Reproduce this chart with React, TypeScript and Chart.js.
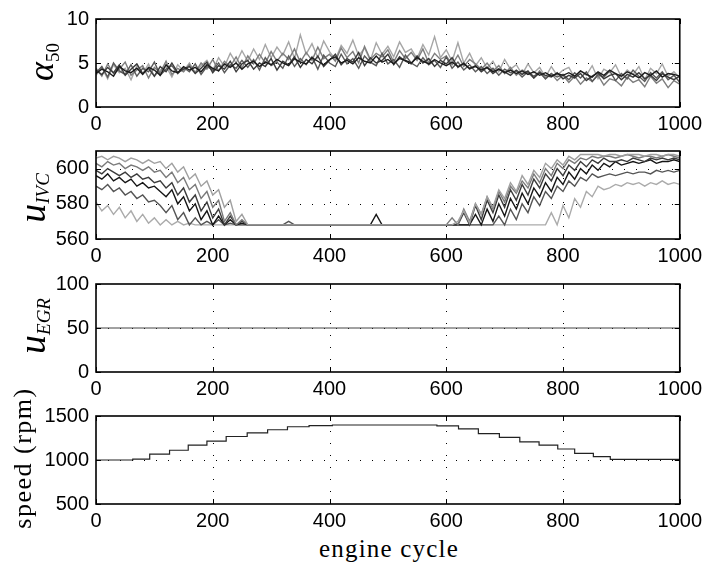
import React, { useEffect, useRef } from "react";
import { Chart, registerables } from "chart.js";

Chart.register(...registerables);

// ---------- data ----------
const cycles = [
  0, 10, 20, 30, 40, 50, 60, 70, 80, 90, 100, 110, 120, 130, 140, 150, 160, 170, 180, 190,
  200, 210, 220, 230, 240, 250, 260, 270, 280, 290, 300, 310, 320, 330, 340, 350, 360, 370, 380, 390,
  400, 410, 420, 430, 440, 450, 460, 470, 480, 490, 500, 510, 520, 530, 540, 550, 560, 570, 580, 590,
  600, 610, 620, 630, 640, 650, 660, 670, 680, 690, 700, 710, 720, 730, 740, 750, 760, 770, 780, 790,
  800, 810, 820, 830, 840, 850, 860, 870, 880, 890, 900, 910, 920, 930, 940, 950, 960, 970, 980, 990, 1000,
];

const xTickValues = [0, 200, 400, 600, 800, 1000];
const alphaTicks = [0, 5, 10];
const ivcTicks = [560, 580, 600];
const egrTicks = [0, 50, 100];
const speedTicks = [500, 1000, 1500];

// alpha_50 traces
const alphaBlack = [
  3.8, 4.3, 4.0, 3.5, 4.6, 4.1, 3.9, 4.4, 3.7, 4.5, 4.2, 3.6, 4.8, 4.1, 3.9, 4.6,
  4.2, 4.5, 4.0, 4.8, 4.4, 4.1, 4.9, 4.5, 5.0, 4.3,
  4.9, 5.2, 4.6, 5.1, 4.8, 5.4, 5.0, 4.7, 5.5, 5.1,
  4.9, 5.6, 5.2, 4.8, 5.4, 5.7, 5.0, 5.3, 4.9, 5.6, 5.2, 5.0, 5.8, 5.1, 5.4, 4.9, 5.5, 5.3, 5.0, 5.6,
  5.2, 4.9, 5.4, 5.0, 4.7, 5.1, 4.6, 4.9, 4.4, 4.6,
  4.2, 4.5, 4.0, 4.3, 3.9, 4.2, 3.8, 4.1, 3.7, 4.0, 3.6, 3.9, 3.5, 3.8, 3.6,
  3.9, 3.5, 4.1, 3.7, 3.4, 4.0, 3.6, 4.2, 3.8, 3.5, 4.0, 3.7, 3.3, 3.9, 3.6, 4.1, 3.4, 3.8, 3.7, 3.5,
];
const alphaDarker = [
  4.2, 3.7, 4.5, 3.9, 4.8, 3.6, 4.3, 4.9, 3.8, 4.4, 3.5, 4.6, 4.0, 5.0, 3.9, 4.3,
  4.6, 3.8, 4.4, 5.1, 3.9, 4.7, 4.3, 5.2, 4.0, 4.9,
  5.3, 4.3, 5.0, 4.6, 5.5, 4.2, 5.2, 4.8, 5.7, 4.5,
  5.4, 4.9, 5.8, 4.6, 5.3, 6.0, 4.8, 5.5, 5.1, 6.2, 4.7, 5.6, 5.0, 5.3, 6.0, 4.8, 5.7, 5.2, 4.9, 5.8,
  5.0, 5.5, 4.6, 5.3, 4.9, 5.6, 4.5, 5.0, 4.3, 4.7,
  4.0, 4.5, 3.8, 4.3, 4.0, 3.6, 4.2, 3.7, 4.1, 3.3, 3.9, 3.6, 3.4, 3.9, 3.2,
  3.6, 3.3, 3.8, 3.0, 3.5, 3.9, 3.2, 3.6, 3.8, 3.1, 3.7, 3.4, 3.9, 3.2, 3.6, 3.0, 3.8, 3.4, 3.1, 3.5,
];
const alphaDark = [
  3.9, 4.6, 3.4, 5.0, 4.1, 3.7, 4.8, 3.5, 4.4, 4.0, 5.1, 3.6, 4.3, 4.7, 3.8, 4.5,
  4.0, 4.9, 3.7, 4.6, 4.2, 5.0, 3.9, 4.8, 4.4, 5.3,
  4.5, 5.4, 4.2, 5.6, 4.7, 5.1, 4.4, 5.8, 4.6, 5.5,
  4.8, 5.7, 4.3, 5.9, 5.0, 4.6, 6.0, 4.9, 5.5, 4.4, 5.8, 5.1, 4.7, 6.1, 4.9, 5.4, 4.5, 5.9, 5.0, 4.6,
  5.6, 4.8, 5.3, 4.5, 5.7, 4.4, 5.1, 4.2, 4.8, 4.0,
  4.6, 3.8, 4.4, 3.6, 4.3, 3.9, 4.1, 3.4, 4.0, 3.5, 3.9, 3.2, 3.8, 3.4, 3.7,
  3.1, 3.9, 3.3, 4.0, 2.9, 3.7, 3.4, 4.1, 3.0, 3.8, 3.2, 4.2, 3.5, 2.9, 3.9, 3.3, 4.0, 3.1, 3.6, 2.8,
];
const alphaMid = [
  4.4, 3.5, 4.9, 3.8, 4.3, 5.1, 3.6, 4.2, 4.7, 3.3, 4.5, 3.9, 5.2, 3.7, 4.4, 4.0,
  4.8, 3.9, 5.0, 4.3, 5.4, 4.1, 5.2, 4.6, 5.7, 4.4,
  5.8, 4.9, 6.0, 5.0, 6.3, 5.2, 6.1, 5.4, 6.6, 5.1,
  6.2, 5.3, 6.8, 5.5, 6.0, 5.2, 6.7, 5.6, 6.3, 5.0, 6.9, 5.4, 6.1, 5.7, 6.5, 5.1, 6.4, 5.5, 6.2, 5.3,
  6.6, 5.0, 6.1, 5.4, 5.8, 4.8, 5.9, 4.6, 5.4, 4.9,
  4.3, 5.0, 4.1, 4.7, 3.8, 4.5, 3.6, 4.2, 3.9, 3.3, 4.1, 3.2, 3.8, 3.0, 3.6,
  2.8, 3.5, 2.6, 3.3, 2.9, 3.6, 2.5, 3.2, 3.0, 2.4, 3.4, 2.8, 3.1, 2.3, 3.5, 2.7, 3.2, 2.2, 3.0, 2.6,
];
const alphaLight = [
  3.6, 4.5, 3.2, 4.8, 3.9, 4.4, 3.1, 4.7, 3.8, 4.9, 3.5, 4.2, 4.6, 3.4, 4.8, 4.1,
  5.0, 3.9, 4.7, 5.3, 4.2, 5.6, 4.6, 6.1, 5.0, 6.4,
  5.2, 6.6, 5.4, 7.1, 5.6, 6.8, 5.9, 7.4, 5.5, 8.2,
  6.0, 7.2, 5.6, 7.5, 6.3, 5.4, 7.0, 6.1, 7.6, 5.8, 6.7, 5.3, 7.3, 6.0, 6.9, 5.7, 7.4, 6.2, 6.6, 5.5,
  7.1, 5.9, 8.0, 5.6, 6.5, 5.2, 7.3, 5.0, 6.1, 4.7,
  5.6, 4.4, 5.2, 4.0, 5.4, 4.3, 4.8, 3.7, 4.9, 3.9, 4.5, 3.4, 4.6, 3.6, 4.2,
  4.5, 3.3, 4.1, 3.6, 4.7, 3.2, 4.3, 3.9, 4.8, 3.4, 4.2, 3.7, 4.6, 3.1, 4.4, 3.8, 4.9, 3.5, 4.0, 3.3,
];

// u_IVC traces
const ivcA = [
  606, 607, 605, 607, 606, 604, 606, 605, 603, 605, 603,
  604, 600, 603, 598, 601, 594, 597, 590, 593, 585,
  588, 578, 582, 570, 574, 568,
  568, 568, 568, 568, 568, 568, 568, 568, 568, 568, 568, 568, 568, 568, 568, 568, 568, 568,
  568, 568, 568, 568, 568, 568, 568, 568, 568, 568, 568, 568, 568, 568, 568, 568, 568,
  570, 576, 569, 580, 574, 584, 578, 588, 583, 592, 587, 596, 591, 599, 595, 603, 600, 605, 602, 607, 605, 608, 608,
  608, 608, 607, 608, 608, 607, 608, 608, 608, 607, 608, 608, 607, 608, 608, 607,
];
const ivcB = [
  603, 601, 604, 602, 603, 600, 602, 601, 599, 601, 598,
  599, 595, 598, 592, 595, 588, 591, 583, 587, 578,
  582, 570, 575, 568, 571,
  568, 568, 568, 568, 568, 568, 568, 568, 568, 568, 568, 568, 568, 568, 568, 568, 568, 568,
  568, 568, 568, 568, 568, 568, 568, 568, 568, 568, 568, 568, 568, 568, 568, 568, 568,
  572, 568, 577, 570, 580, 574, 584, 577, 587, 581, 590, 586, 593, 589, 597, 592, 600, 596, 603, 600, 605, 603, 606, 605,
  607, 606, 607, 607, 606, 607, 608, 607, 606, 607, 607, 606, 607, 608, 607, 606,
];
const ivcC = [
  599, 597, 600, 598, 596, 598, 595, 597, 594, 595, 592,
  593, 589, 592, 585, 589, 581, 585, 576, 581, 572,
  577, 568, 573, 568, 570, 568,
  568, 568, 568, 568, 568, 568, 568, 568, 568, 568, 568, 568, 568, 568, 568, 568, 568, 568,
  568, 568, 568, 568, 568, 568, 568, 568, 568, 568, 568, 568, 568, 568, 568, 568, 568, 568,
  575, 568, 579, 571, 582, 575, 585, 578, 588, 582, 591, 585, 594, 589, 597, 593, 600, 596, 602, 599, 604, 601, 605, 603, 606, 604,
  604, 605, 604, 606, 605, 604, 606, 605, 606, 605, 606, 605,
];
const ivcD = [
  596, 594, 597, 593, 595, 592, 594, 590, 592, 589, 590,
  587, 584, 588, 580, 584, 576, 580, 571, 576, 568,
  573, 568, 571, 568, 569,
  568, 568, 568, 568, 568, 568, 568, 568, 568, 568, 568, 568, 568, 568, 568, 568, 568, 568, 568, 568,
  568, 568, 574, 568, 568, 568, 568, 568, 568, 568, 568, 568, 568, 568, 568, 568, 568, 568, 568,
  574, 568, 577, 570, 580, 573, 583, 577, 586, 580, 589, 584, 592, 587, 595, 591, 598, 594, 600, 597, 602, 599, 603, 601, 604, 602,
  603, 604, 603, 604, 605, 603, 604, 604, 605, 604,
];
const ivcE = [
  590, 588, 591, 587, 589, 585, 587, 583, 585, 581, 582,
  579, 575, 579, 571, 575, 568, 572, 568, 570, 568,
  571, 568, 569, 568,
  568, 568, 568, 568, 568, 568, 568, 568, 570, 568, 568, 568, 568, 568, 568, 568, 568, 568, 568, 568, 568, 568,
  568, 568, 568, 568, 568, 568, 568, 568, 568, 568, 568, 568, 568, 568, 568, 568, 568, 568, 568, 568, 568, 568,
  573, 568, 577, 571, 580, 575, 584, 579, 587, 583, 590, 587, 593, 590, 595, 593, 597, 595,
  596, 597, 596, 597, 598, 597, 598, 598, 597, 599, 598, 599, 598, 599,
];
const ivcF = [
  581, 576, 579, 574, 578, 572, 576, 570, 574, 569, 572,
  568, 571, 568, 570, 568, 569,
  568, 568, 568, 568, 568, 568, 568, 568, 568, 568, 568, 568, 568, 568, 568, 568, 568, 568, 568, 568,
  568, 568, 568, 568, 568, 568, 568, 568, 568, 568, 568, 568, 568, 568, 568, 568, 568, 568, 568, 568,
  568, 568, 568, 568, 568, 568, 568, 568, 568, 568, 568, 568, 568, 568, 568, 568, 568, 568, 568, 568, 568,
  575, 568, 579, 572, 583, 578, 587, 584, 590, 588,
  589, 591, 590, 592, 591, 592, 590, 592, 591, 593, 591, 592, 591,
];

// u_EGR
const egrCycles = [0, 1000];
const egrValues = [50, 50];

// engine speed (step changes)
const speedCycles = [0, 63, 92, 126, 158, 190, 223, 259, 294, 328, 365, 405, 584, 621, 655, 691, 726, 759, 791, 820, 852, 881, 1000];
const speedValues = [1000, 1010, 1066, 1111, 1170, 1215, 1267, 1309, 1344, 1378, 1390, 1398, 1388, 1354, 1299, 1257, 1205, 1170, 1125, 1076, 1038, 1007, 1000];

// ---------- layout ----------
const W = 707;
const CANVAS_H = 132;
const PAD_TOP = 13;
const AXIS_LEFT = 96;
const PAD_RIGHT = 25;
const XAXIS_H = 25;

const tickFont = { family: '"Liberation Sans", Arial, sans-serif', size: 20 };

const framePlugin = {
  id: "frame",
  beforeDatasetsDraw(chart: any) {
    const { ctx, chartArea, scales } = chart;
    const { left, right, top, bottom } = chartArea;
    ctx.save();
    ctx.strokeStyle = "#000";
    ctx.lineWidth = 1;
    ctx.setLineDash([1, 11]);
    for (const t of scales.x.ticks) {
      const px = Math.round(scales.x.getPixelForValue(t.value)) + 0.5;
      if (px - left < 2 || right - px < 2) continue;
      ctx.beginPath();
      ctx.moveTo(px, bottom);
      ctx.lineTo(px, top);
      ctx.stroke();
    }
    for (const t of scales.y.ticks) {
      const py = Math.round(scales.y.getPixelForValue(t.value)) + 0.5;
      if (py - top < 2 || bottom - py < 2) continue;
      ctx.beginPath();
      ctx.moveTo(left, py);
      ctx.lineTo(right, py);
      ctx.stroke();
    }
    ctx.restore();
  },
  afterDatasetsDraw(chart: any) {
    const { ctx, chartArea, scales } = chart;
    const { left, right, top, bottom } = chartArea;
    ctx.save();
    ctx.strokeStyle = "#000";
    ctx.setLineDash([]);
    ctx.lineWidth = 1;
    const tl = 5;
    for (const t of scales.x.ticks) {
      const px = Math.round(scales.x.getPixelForValue(t.value)) + 0.5;
      ctx.beginPath();
      ctx.moveTo(px, bottom);
      ctx.lineTo(px, bottom - tl);
      ctx.moveTo(px, top);
      ctx.lineTo(px, top + tl);
      ctx.stroke();
    }
    for (const t of scales.y.ticks) {
      const py = Math.round(scales.y.getPixelForValue(t.value)) + 0.5;
      ctx.beginPath();
      ctx.moveTo(left, py);
      ctx.lineTo(left + tl, py);
      ctx.moveTo(right, py);
      ctx.lineTo(right - tl, py);
      ctx.stroke();
    }
    ctx.lineWidth = 1.6;
    ctx.strokeRect(left, top, right - left, bottom - top);
    ctx.restore();
  },
};

const plainNumber = (v: any) => String(v);

function makeConfig(yMin: number, yMax: number, yTicks: number[], labels: number[] | undefined, datasets: any[]) {
  return {
    type: "line",
    data: labels ? { labels, datasets } : { datasets },
    options: {
      animation: false,
      responsive: false,
      maintainAspectRatio: false,
      devicePixelRatio: 1,
      events: [],
      layout: { padding: { top: PAD_TOP, right: PAD_RIGHT, left: 0, bottom: 0 } },
      plugins: { legend: { display: false }, tooltip: { enabled: false } },
      elements: { point: { radius: 0 }, line: { borderWidth: 1, tension: 0 } },
      scales: {
        x: {
          type: "linear",
          min: 0,
          max: 1000,
          afterBuildTicks: (s: any) => {
            s.ticks = xTickValues.map((v) => ({ value: v }));
          },
          afterFit: (s: any) => {
            s.height = XAXIS_H;
          },
          grid: { display: false, drawTicks: false },
          border: { display: false },
          ticks: { font: tickFont, color: "#000", maxRotation: 0, autoSkip: false, padding: 5, callback: plainNumber },
        },
        y: {
          type: "linear",
          min: yMin,
          max: yMax,
          afterBuildTicks: (s: any) => {
            s.ticks = yTicks.map((v) => ({ value: v }));
          },
          afterFit: (s: any) => {
            s.width = AXIS_LEFT;
          },
          grid: { display: false, drawTicks: false },
          border: { display: false },
          ticks: { font: tickFont, color: "#000", padding: 7, callback: plainNumber },
        },
      },
    },
    plugins: [framePlugin],
  };
}

const line = (data: any[], color: string, extra: any = {}) => ({
  data,
  borderColor: color,
  borderWidth: 1.4,
  pointRadius: 0,
  fill: false,
  ...extra,
});

const panels = [
  {
    top: 0,
    cfg: () =>
      makeConfig(0, 10, alphaTicks, cycles, [
        line(alphaBlack, "#1c1c1c"),
        line(alphaDarker, "#3a3a3a"),
        line(alphaDark, "#5a5a5a"),
        line(alphaMid, "#7e7e7e"),
        line(alphaLight, "#a6a6a6"),
      ]),
  },
  {
    top: 132,
    cfg: () =>
      makeConfig(560, 610, ivcTicks, cycles, [
        line(ivcA, "#a0a0a0"),
        line(ivcB, "#7a7a7a"),
        line(ivcC, "#3c3c3c"),
        line(ivcD, "#151515"),
        line(ivcE, "#555555"),
        line(ivcF, "#ababab"),
      ]),
  },
  {
    top: 265,
    cfg: () =>
      makeConfig(0, 100, egrTicks, undefined, [
        line(egrCycles.map((c, i) => ({ x: c, y: egrValues[i] })), "#444444", { borderWidth: 1 }),
      ]),
  },
  {
    top: 397,
    cfg: () =>
      makeConfig(500, 1500, speedTicks, undefined, [
        line(speedCycles.map((c, i) => ({ x: c, y: speedValues[i] })), "#222222", { stepped: true, borderWidth: 1.2 }),
      ]),
  },
];

function PanelChart({ top, cfg }: { top: number; cfg: () => any }) {
  const ref = useRef<HTMLCanvasElement | null>(null);
  useEffect(() => {
    if (!ref.current) return;
    const chart = new Chart(ref.current, cfg());
    return () => chart.destroy();
  }, []);
  return (
    <canvas
      ref={ref}
      width={W}
      height={CANVAS_H}
      style={{ position: "absolute", left: 0, top, width: W, height: CANVAS_H }}
    />
  );
}

const serif = '"Liberation Serif", "Times New Roman", serif';

function VTitle({ cx, cy, children, style }: any) {
  return (
    <div
      style={{
        position: "absolute",
        left: cx,
        top: cy,
        transform: "translate(-50%, -50%) rotate(-90deg)",
        whiteSpace: "nowrap",
        fontFamily: serif,
        lineHeight: 1,
        color: "#000",
        ...style,
      }}
    >
      {children}
    </div>
  );
}

export default function App() {
  return (
    <div style={{ position: "absolute", left: 0, top: 0, width: W, height: 569, background: "#fff", overflow: "hidden" }}>
      {panels.map((p, i) => (
        <PanelChart key={i} top={p.top} cfg={p.cfg} />
      ))}
      <VTitle cx={41} cy={62}>
        <span style={{ fontStyle: "italic", fontSize: 36 }}>α</span>
        <span style={{ fontSize: 19, position: "relative", top: 6 }}>50</span>
      </VTitle>
      <VTitle cx={32} cy={198}>
        <span style={{ fontStyle: "italic", fontSize: 38 }}>u</span>
        <span style={{ fontStyle: "italic", fontSize: 19, position: "relative", top: 4 }}>IVC</span>
      </VTitle>
      <VTitle cx={32} cy={326}>
        <span style={{ fontStyle: "italic", fontSize: 38 }}>u</span>
        <span style={{ fontStyle: "italic", fontSize: 19, position: "relative", top: 5 }}>EGR</span>
      </VTitle>
      <VTitle cx={23} cy={458} style={{ fontSize: 26, letterSpacing: 1.5 }}>
        speed (rpm)
      </VTitle>
      <div
        style={{
          position: "absolute",
          left: 389,
          top: 548,
          transform: "translate(-50%, -50%)",
          whiteSpace: "nowrap",
          fontFamily: serif,
          fontSize: 25,
          letterSpacing: 1.2,
          lineHeight: 1,
          color: "#000",
        }}
      >
        engine cycle
      </div>
    </div>
  );
}
